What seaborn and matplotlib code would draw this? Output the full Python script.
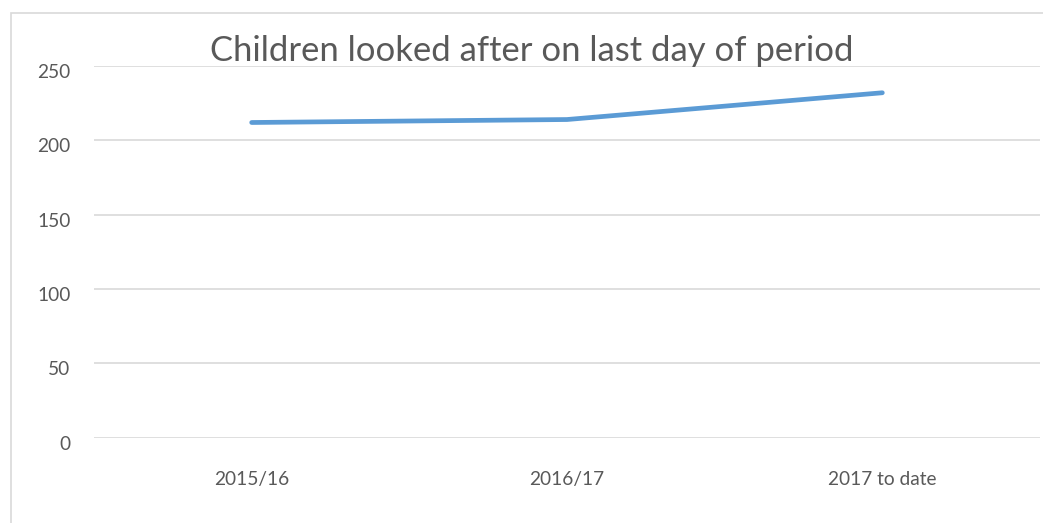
import matplotlib
matplotlib.use('Agg')
import matplotlib.pyplot as plt
import matplotlib.transforms as mtransforms
import seaborn as sns
import pandas as pd
from matplotlib.patches import Rectangle

periods = ["2015/16", "2016/17", "2017 to date"]
children = [212, 214, 232]
y_ticks = [0, 50, 100, 150, 200, 250]

df = pd.DataFrame({"period": periods, "children": children})

sns.set_theme(style="white")
plt.rcParams['font.family'] = ['Lato', 'DejaVu Sans']

fig = plt.figure(figsize=(10.43, 5.23), dpi=100)
ax = fig.add_axes([94 / 1043, 1 - 437.7 / 523, (1040 - 94) / 1043, (437.7 - 66) / 523])

sns.lineplot(data=df, x="period", y="children", ax=ax, color="#5B9BD5",
             linewidth=3.4, solid_capstyle="round", sort=False)

ax.set_xlim(-0.5, 2.5)
ax.set_ylim(0, 250)
ax.set_yticks(y_ticks)
ax.yaxis.grid(True, color="#D9D9D9", linewidth=1.2)
ax.set_axisbelow(True)
for s in ax.spines.values():
    s.set_visible(False)
ax.tick_params(axis='both', length=0, labelsize=13.8, labelcolor="#595959")
ax.tick_params(axis='y', pad=17)
ax.tick_params(axis='x', pad=24)
ax.set_xlabel("")
ax.set_ylabel("")

# y labels sit a little under their gridline in the original
shift = mtransforms.ScaledTranslation(0, -5 / 100, fig.dpi_scale_trans)
for lbl in ax.get_yticklabels():
    lbl.set_transform(lbl.get_transform() + shift)

fig.text(532 / 1043, 1 - 51 / 523, "Children looked after on last day of period",
         ha="center", va="center", fontsize=24.9, color="#595959")

# chart area border
fig.patches.append(Rectangle((11 / 1043, -0.1), 1.2, 1.1 - 13 / 523, transform=fig.transFigure,
                             fill=False, edgecolor="#D9D9D9", linewidth=1.2))

fig.savefig("out.png", dpi=100)
